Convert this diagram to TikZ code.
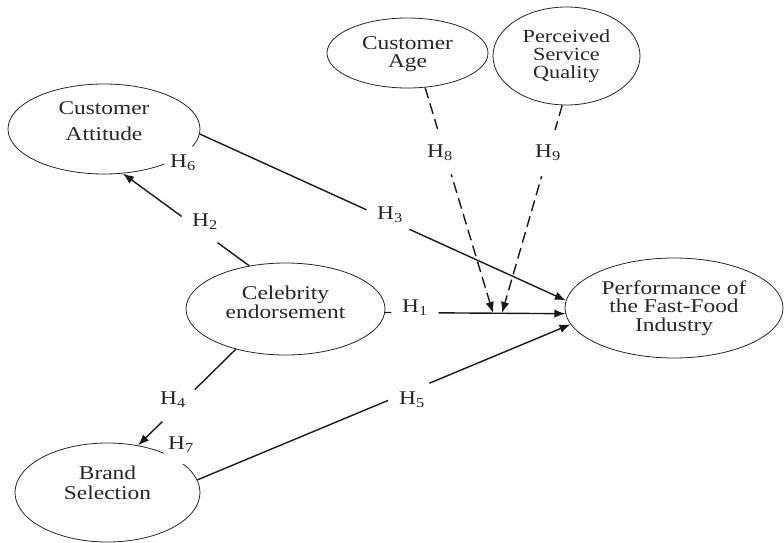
\documentclass[tikz,border=0pt]{standalone}
\usepackage{fontspec}
\setmainfont{Liberation Serif}[FakeStretch=1.2]
\usetikzlibrary{shapes.geometric,arrows.meta}
\begin{document}
\begin{tikzpicture}[x=1pt,y=-1pt,
  construct/.style={ellipse, draw=black!85, line width=0.8pt, inner sep=0pt, align=center, text=black!85},
  hyp/.style={circle, fill=white, inner sep=0pt, minimum size=48pt, text=black!85, font=\fontsize{19.5}{20}\selectfont},
  hypsmall/.style={hyp, minimum size=38pt},
  conn/.style={line width=1.4pt, draw=black!90},
  tipped/.style={-{Latex[length=11pt,width=8.5pt]}},
  moder/.style={conn, dash pattern=on 11pt off 5.5pt},
]
\useasboundingbox (0,0) rectangle (784,543);

% constructs
\node[construct, minimum width=192pt, minimum height=90pt, text depth=16pt,
      font=\fontsize{19.5}{26}\selectfont] (ca) at (104,129) {Customer\\Attitude};
\node[construct, minimum width=161pt, minimum height=70pt, text depth=2pt,
      font=\fontsize{19.5}{18}\selectfont] (age) at (407.5,53) {Customer\\Age};
\node[construct, minimum width=147pt, minimum height=98pt,
      font=\fontsize{18.5}{18}\selectfont] (psq) at (566.5,56) {Perceived\\Service\\Quality};
\node[construct, minimum width=199pt, minimum height=92pt, text depth=14pt,
      font=\fontsize{19.5}{18.5}\selectfont] (cel) at (285.5,309) {Celebrity\\endorsement};
\node[construct, minimum width=185pt, minimum height=99pt, text depth=20pt,
      font=\fontsize{19.5}{20}\selectfont] (bs) at (107.5,492.5) {Brand\\Selection};
\node[construct, minimum width=218pt, minimum height=100pt,
      font=\fontsize{19.5}{18.5}\selectfont] (perf) at (674,308) {Performance of\\the Fast-Food\\Industry};

% connectors
\draw[conn,tipped] (cel.130) -- (ca.-67);
\draw[conn,tipped] (ca.-3) -- (perf.176);
\draw[conn,tipped] (cel.-2) -- (perf.183);
\draw[conn,tipped] (cel.219) -- (bs.57);
\draw[conn,tipped] (bs.8) -- (perf.189);
\coordinate (m8) at (493,313);
\coordinate (m9) at (502,313);
\draw[moder,tipped] (age.-63) -- (m8);
\draw[moder,tipped] (psq.-95) -- (m9);

% hypothesis labels
\node[hyp] (h1) at (415,308) {H\textsubscript{1}};
\node[hyp] (h2) at (205,222) {H\textsubscript{2}};
\node[hyp] (h3) at (390,215) {H\textsubscript{3}};
\node[hyp] (h4) at (173,400) {H\textsubscript{4}};
\node[hyp] (h5) at (412,400) {H\textsubscript{5}};
\node[hypsmall] (h6) at (183,163) {H\textsubscript{6}};
\node[hypsmall] (h7) at (181,445) {H\textsubscript{7}};
\node[hyp] (h8) at (440,153) {H\textsubscript{8}};
\node[hyp] (h9) at (548,153) {H\textsubscript{9}};
\end{tikzpicture}
\end{document}
